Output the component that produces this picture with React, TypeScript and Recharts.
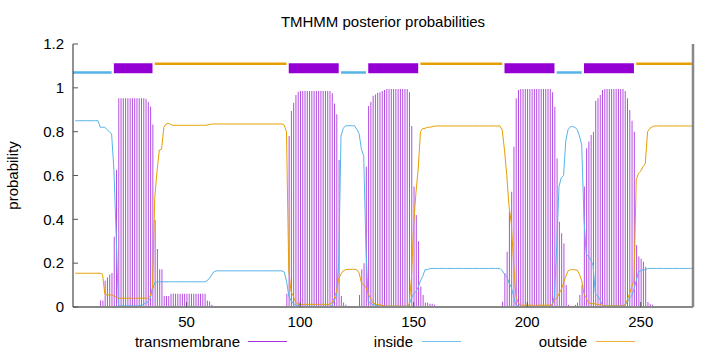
import React from "react";
import {
  ComposedChart,
  Bar,
  Line,
  XAxis,
  YAxis,
  ReferenceArea,
  ReferenceLine,
} from "recharts";

// sequence positions 1..273
const positions = Array.from({ length: 273 }, (_, i) => i + 1);

// posterior probabilities, 10 positions per row
const transmembrane = [
  0, 0, 0, 0, 0, 0, 0, 0, 0, 0, // 1
  0, 0.03, 0.03, 0.12, 0.135, 0.148, 0.155, 0.32, 0.625, 0.952, // 11
  0.952, 0.952, 0.952, 0.952, 0.952, 0.952, 0.952, 0.952, 0.952, 0.952, // 21
  0.952, 0.95, 0.937, 0.914, 0.833, 0.397, 0.265, 0.172, 0.172, 0.05, // 31
  0.05, 0.05, 0.06, 0.06, 0.06, 0.06, 0.06, 0.06, 0.06, 0.06, // 41
  0.06, 0.06, 0.06, 0.06, 0.06, 0.06, 0.06, 0.06, 0.03, 0.025, // 51
  0.01, 0, 0, 0, 0, 0, 0, 0, 0, 0, // 61
  0, 0, 0, 0, 0, 0, 0, 0, 0, 0, // 71
  0, 0, 0, 0, 0, 0, 0, 0, 0, 0, // 81
  0, 0, 0, 0.06, 0.78, 0.894, 0.932, 0.967, 0.982, 0.985, // 91
  0.985, 0.985, 0.985, 0.985, 0.985, 0.985, 0.985, 0.985, 0.985, 0.985, // 101
  0.985, 0.985, 0.985, 0.975, 0.929, 0.879, 0.671, 0.05, 0.02, 0.01, // 111
  0, 0, 0, 0, 0, 0.055, 0.172, 0.2, 0.64, 0.917, // 121
  0.937, 0.964, 0.97, 0.978, 0.98, 0.985, 0.99, 0.995, 0.995, 0.995, // 131
  0.995, 0.995, 0.995, 0.995, 0.995, 0.995, 0.995, 0.98, 0.826, 0.55, // 141
  0.42, 0.3, 0.093, 0.055, 0.02, 0.02, 0.015, 0.015, 0.01, 0, // 151
  0, 0, 0, 0, 0, 0, 0, 0, 0, 0, // 161
  0, 0, 0, 0, 0, 0, 0, 0, 0, 0, // 171
  0, 0, 0, 0, 0, 0, 0, 0, 0.024, 0.154, // 181
  0.252, 0.435, 0.526, 0.731, 0.952, 0.99, 0.995, 0.995, 0.995, 0.995, // 191
  0.995, 0.995, 0.995, 0.995, 0.995, 0.995, 0.995, 0.995, 0.995, 0.995, // 201
  0.98, 0.914, 0.678, 0.389, 0.336, 0.29, 0.1, 0.01, 0, 0, // 211
  0.01, 0.02, 0.055, 0.1, 0.55, 0.724, 0.755, 0.785, 0.8, 0.941, // 221
  0.952, 0.967, 0.99, 0.995, 0.995, 0.995, 0.995, 0.995, 0.995, 0.995, // 231
  0.995, 0.995, 0.985, 0.952, 0.899, 0.85, 0.8, 0.283, 0.23, 0.22, // 241
  0.207, 0.184, 0.023, 0.015, 0.01, 0, 0, 0, 0, 0, // 251
  0, 0, 0, 0, 0, 0, 0, 0, 0, 0, // 261
  0, 0, 0, // 271
];

const inside = [
  0.85, 0.85, 0.85, 0.85, 0.85, 0.85, 0.85, 0.85, 0.85, 0.85, // 1
  0.85, 0.82, 0.82, 0.82, 0.81, 0.8, 0.789, 0.63, 0.33, 0.005, // 11
  0.005, 0.005, 0.005, 0.005, 0.005, 0.005, 0.005, 0.005, 0.005, 0.007, // 21
  0.012, 0.018, 0.024, 0.04, 0.08, 0.11, 0.115, 0.115, 0.115, 0.115, // 31
  0.115, 0.115, 0.115, 0.115, 0.115, 0.115, 0.115, 0.115, 0.115, 0.115, // 41
  0.115, 0.115, 0.115, 0.115, 0.115, 0.115, 0.115, 0.115, 0.12, 0.13, // 51
  0.145, 0.16, 0.165, 0.165, 0.165, 0.165, 0.165, 0.165, 0.165, 0.165, // 61
  0.165, 0.165, 0.165, 0.165, 0.165, 0.165, 0.165, 0.165, 0.165, 0.165, // 71
  0.165, 0.165, 0.165, 0.165, 0.165, 0.165, 0.165, 0.165, 0.165, 0.165, // 81
  0.165, 0.165, 0.16, 0.12, 0.05, 0.03, 0.015, 0.01, 0.006, 0.003, // 91
  0.003, 0.003, 0.003, 0.003, 0.003, 0.003, 0.003, 0.003, 0.003, 0.003, // 101
  0.003, 0.003, 0.003, 0.005, 0.03, 0.05, 0.2, 0.78, 0.815, 0.827, // 111
  0.827, 0.827, 0.827, 0.827, 0.81, 0.79, 0.72, 0.69, 0.27, 0.02, // 121
  0.02, 0.01, 0.01, 0.005, 0.005, 0.005, 0.004, 0.003, 0.003, 0.003, // 131
  0.003, 0.003, 0.003, 0.003, 0.003, 0.003, 0.003, 0.01, 0.04, 0.06, // 141
  0.07, 0.09, 0.12, 0.14, 0.17, 0.17, 0.175, 0.176, 0.176, 0.176, // 151
  0.176, 0.176, 0.176, 0.176, 0.176, 0.176, 0.176, 0.176, 0.176, 0.176, // 161
  0.176, 0.176, 0.176, 0.176, 0.176, 0.176, 0.176, 0.176, 0.176, 0.176, // 171
  0.176, 0.176, 0.176, 0.176, 0.176, 0.176, 0.176, 0.176, 0.165, 0.15, // 181
  0.14, 0.11, 0.09, 0.05, 0.01, 0.005, 0.003, 0.003, 0.003, 0.003, // 191
  0.003, 0.003, 0.003, 0.003, 0.003, 0.003, 0.003, 0.003, 0.003, 0.003, // 201
  0.01, 0.05, 0.28, 0.55, 0.59, 0.6, 0.76, 0.81, 0.823, 0.823, // 211
  0.82, 0.81, 0.78, 0.74, 0.4, 0.24, 0.23, 0.215, 0.19, 0.06, // 221
  0.05, 0.035, 0.01, 0.005, 0.005, 0.005, 0.005, 0.005, 0.005, 0.005, // 231
  0.005, 0.005, 0.01, 0.02, 0.04, 0.05, 0.08, 0.12, 0.16, 0.165, // 241
  0.17, 0.17, 0.175, 0.176, 0.176, 0.176, 0.176, 0.176, 0.176, 0.176, // 251
  0.176, 0.176, 0.176, 0.176, 0.176, 0.176, 0.176, 0.176, 0.176, 0.176, // 261
  0.176, 0.176, 0.176, // 271
];

const outside = [
  0.154, 0.154, 0.154, 0.154, 0.154, 0.154, 0.154, 0.154, 0.154, 0.154, // 1
  0.154, 0.154, 0.15, 0.06, 0.055, 0.055, 0.055, 0.05, 0.045, 0.04, // 11
  0.04, 0.04, 0.04, 0.04, 0.04, 0.04, 0.04, 0.04, 0.04, 0.04, // 21
  0.04, 0.04, 0.04, 0.05, 0.09, 0.5, 0.62, 0.716, 0.72, 0.82, // 31
  0.835, 0.838, 0.833, 0.829, 0.829, 0.829, 0.829, 0.829, 0.829, 0.829, // 41
  0.829, 0.829, 0.829, 0.829, 0.829, 0.829, 0.829, 0.829, 0.83, 0.832, // 51
  0.834, 0.835, 0.835, 0.835, 0.835, 0.835, 0.835, 0.835, 0.835, 0.835, // 61
  0.835, 0.835, 0.835, 0.835, 0.835, 0.835, 0.835, 0.835, 0.835, 0.835, // 71
  0.835, 0.835, 0.835, 0.835, 0.835, 0.835, 0.835, 0.835, 0.835, 0.835, // 81
  0.835, 0.835, 0.83, 0.8, 0.17, 0.07, 0.05, 0.023, 0.012, 0.012, // 91
  0.012, 0.012, 0.012, 0.012, 0.012, 0.012, 0.012, 0.012, 0.012, 0.012, // 101
  0.012, 0.012, 0.012, 0.02, 0.04, 0.07, 0.13, 0.15, 0.165, 0.17, // 111
  0.172, 0.172, 0.172, 0.172, 0.17, 0.155, 0.11, 0.1, 0.09, 0.06, // 121
  0.04, 0.02, 0.015, 0.01, 0.01, 0.008, 0.006, 0.004, 0.004, 0.004, // 131
  0.004, 0.004, 0.004, 0.004, 0.004, 0.004, 0.004, 0.01, 0.13, 0.38, // 141
  0.52, 0.63, 0.8, 0.815, 0.815, 0.82, 0.82, 0.822, 0.825, 0.826, // 151
  0.826, 0.826, 0.826, 0.826, 0.826, 0.826, 0.826, 0.826, 0.826, 0.826, // 161
  0.826, 0.826, 0.826, 0.826, 0.826, 0.826, 0.826, 0.826, 0.826, 0.826, // 171
  0.826, 0.826, 0.826, 0.826, 0.826, 0.826, 0.826, 0.826, 0.807, 0.716, // 181
  0.6, 0.46, 0.38, 0.2, 0.05, 0.02, 0.008, 0.008, 0.008, 0.008, // 191
  0.008, 0.008, 0.008, 0.008, 0.008, 0.008, 0.008, 0.008, 0.008, 0.008, // 201
  0.01, 0.03, 0.04, 0.06, 0.08, 0.11, 0.14, 0.165, 0.17, 0.17, // 211
  0.17, 0.168, 0.15, 0.12, 0.06, 0.04, 0.02, 0.015, 0.015, 0.015, // 221
  0.01, 0.01, 0.01, 0.005, 0.005, 0.005, 0.005, 0.005, 0.005, 0.005, // 231
  0.005, 0.005, 0.01, 0.03, 0.06, 0.09, 0.12, 0.58, 0.61, 0.62, // 241
  0.64, 0.655, 0.8, 0.815, 0.822, 0.826, 0.826, 0.826, 0.826, 0.826, // 251
  0.826, 0.826, 0.826, 0.826, 0.826, 0.826, 0.826, 0.826, 0.826, 0.826, // 261
  0.826, 0.826, 0.826, // 271
];

// predicted topology, drawn above the curves
const insideSegments = [[0, 17], [118, 129], [213, 224]];
const tmSegments = [[18, 35], [95, 117], [130, 152], [190, 212], [225, 247]];
const outsideSegments = [[36, 94], [153, 189], [248, 273]];

const xTicks = [50, 100, 150, 200, 250];
const yTicks = [0, 0.2, 0.4, 0.6, 0.8, 1, 1.2];

const PURPLE = "#9400d3";
const BLUE = "#56b4e9";
const ORANGE = "#e69f00";
const FONT = "'Liberation Sans', Arial, sans-serif";

const legendItems = [
  { name: "transmembrane", color: PURPLE, textEnd: 240, lineStart: 248 },
  { name: "inside", color: BLUE, textEnd: 413, lineStart: 422 },
  { name: "outside", color: ORANGE, textEnd: 587, lineStart: 596 },
];

const rows = positions.map((pos, i) => ({
  pos,
  tm: transmembrane[i],
  inside: inside[i],
  outside: outside[i],
}));

const tickStyle = { fontSize: 15, fill: "#000", fontFamily: FONT };

export default function App() {
  return (
    <div
      style={{
        position: "absolute",
        left: 0,
        top: 0,
        width: 720,
        height: 352,
        background: "#fff",
        fontFamily: FONT,
      }}
    >
      <div
        style={{
          position: "absolute",
          left: 73,
          width: 620,
          top: 14,
          textAlign: "center",
          fontSize: 15,
          lineHeight: "15px",
          color: "#000",
        }}
      >
        TMHMM posterior probabilities
      </div>

      <ComposedChart
        width={720}
        height={352}
        data={rows}
        margin={{ top: 44, right: 0, bottom: 0, left: 0 }}
        style={{ fontFamily: FONT }}
      >
        <XAxis
          dataKey="pos"
          type="number"
          domain={[0, 273]}
          ticks={xTicks}
          height={45}
          tick={tickStyle}
          tickSize={-5}
          tickMargin={14}
          tickLine={{ stroke: "#555" }}
          axisLine={{ stroke: "#888", strokeWidth: 2 }}
        />
        <XAxis
          xAxisId="top"
          orientation="top"
          dataKey="pos"
          type="number"
          domain={[0, 273]}
          ticks={xTicks}
          height={0}
          tick={false}
          tickSize={-5}
          tickLine={{ stroke: "#555" }}
          axisLine={{ stroke: "#222" }}
        />
        <YAxis
          type="number"
          domain={[0, 1.2]}
          ticks={yTicks}
          width={73}
          tick={tickStyle}
          tickSize={-5}
          tickMargin={14}
          tickFormatter={(v: number) => String(+v.toFixed(1))}
          tickLine={{ stroke: "#555" }}
          axisLine={{ stroke: "#222" }}
          label={{
            value: "probability",
            angle: -90,
            position: "insideLeft",
            offset: 13,
            fontSize: 15,
            fill: "#000",
            style: { textAnchor: "middle", fontFamily: FONT },
          }}
        />
        <YAxis
          yAxisId="right"
          orientation="right"
          type="number"
          domain={[0, 1.2]}
          ticks={yTicks}
          width={27}
          tick={false}
          tickSize={-4}
          tickLine={{ stroke: "#555" }}
          axisLine={{ stroke: "#888", strokeWidth: 2.5 }}
        />

        <Bar
          dataKey="tm"
          name="transmembrane"
          fill={PURPLE}
          fillOpacity={0.7}
          barSize={1}
          isAnimationActive={false}
        />
        <Line
          type="linear"
          dataKey="inside"
          name="inside"
          stroke={BLUE}
          strokeWidth={1}
          dot={false}
          isAnimationActive={false}
        />
        <Line
          type="linear"
          dataKey="outside"
          name="outside"
          stroke={ORANGE}
          strokeWidth={1}
          dot={false}
          isAnimationActive={false}
        />

        {insideSegments.map(([s, e]) => (
          <ReferenceLine
            key={"in" + s}
            segment={[{ x: s, y: 1.07 }, { x: e, y: 1.07 }]}
            stroke={BLUE}
            strokeWidth={2.5}
          />
        ))}
        {outsideSegments.map(([s, e]) => (
          <ReferenceLine
            key={"out" + s}
            segment={[{ x: s, y: 1.11 }, { x: e, y: 1.11 }]}
            stroke={ORANGE}
            strokeWidth={2.5}
          />
        ))}
        {tmSegments.map(([s, e]) => (
          <ReferenceArea
            key={"tm" + s}
            x1={s}
            x2={e}
            y1={1.067}
            y2={1.112}
            fill={PURPLE}
            fillOpacity={1}
            stroke="none"
          />
        ))}
      </ComposedChart>

      {legendItems.map((item) => (
        <React.Fragment key={item.name}>
          <div
            style={{
              position: "absolute",
              left: item.textEnd - 200,
              width: 200,
              top: 334,
              textAlign: "right",
              fontSize: 15,
              lineHeight: "15px",
              color: "#000",
            }}
          >
            {item.name}
          </div>
          <div
            style={{
              position: "absolute",
              left: item.lineStart,
              top: 341,
              width: 39,
              height: 1,
              background: item.color,
              opacity: 0.8,
            }}
          />
        </React.Fragment>
      ))}
    </div>
  );
}
